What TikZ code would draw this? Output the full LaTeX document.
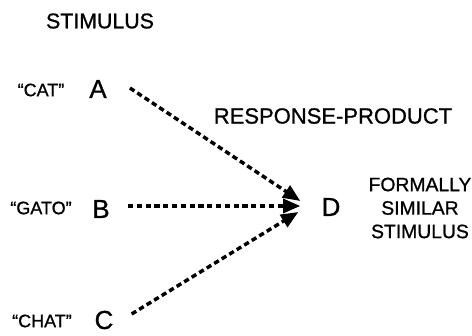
\documentclass[tikz,border=0pt]{standalone}
\usepackage{fontspec}
\setmainfont{Liberation Sans}[FakeBold=0.9]
\usetikzlibrary{arrows.meta}

\begin{document}
\begin{tikzpicture}[
  x=0.75pt,
  y=-0.75pt,
  head/.style={inner sep=0pt, font=\fontsize{16}{18}\selectfont},
  word/.style={inner sep=0pt, font=\fontsize{13.5}{16}\selectfont},
  letter/.style={inner sep=0pt, font=\fontsize{19.5}{22}\selectfont},
  dotarr/.style={
    -{Triangle[length=13pt, width=10.5pt]},
    line width=2.6pt,
    dash pattern=on 4pt off 2.6pt
  }
]
\useasboundingbox (0,0) rectangle (472,336);

% column headings
\node[head] (stim) at (100,21) {STIMULUS};
\node[head, font=\fontsize{16.5}{19}\selectfont] (resp) at (333,116)
  {RESPONSE-PRODUCT};

% the three source words
\node[word] (cat)  at (41,90)  {“CAT”};
\node[word] (gato) at (41,208) {“GATO”};
\node[word] (chat) at (42,321) {“CHAT”};

\node[letter] (a) at (98,89)  {A};
\node[letter] (b) at (101,209) {B};
\node[letter] (c) at (104,320) {C};

% the common product
\node[letter] (d) at (331,207) {D};
\node[head, align=center, font=\fontsize{14.5}{17.6}\selectfont] (sim)
  at (420,208) {FORMALLY\\SIMILAR\\STIMULUS};

% dotted arrows into D
\draw[dotarr] ([shift={(23,-1)}]a.east) -- ([shift={(-21,-6)}]d.west);
\draw[dotarr] ([shift={(18,-3)}]b.east) -- ([shift={(-21,-1)}]d.west);
\draw[dotarr] ([shift={(18,-6)}]c.east) -- ([shift={(-23,5)}]d.west);

\end{tikzpicture}
\end{document}
